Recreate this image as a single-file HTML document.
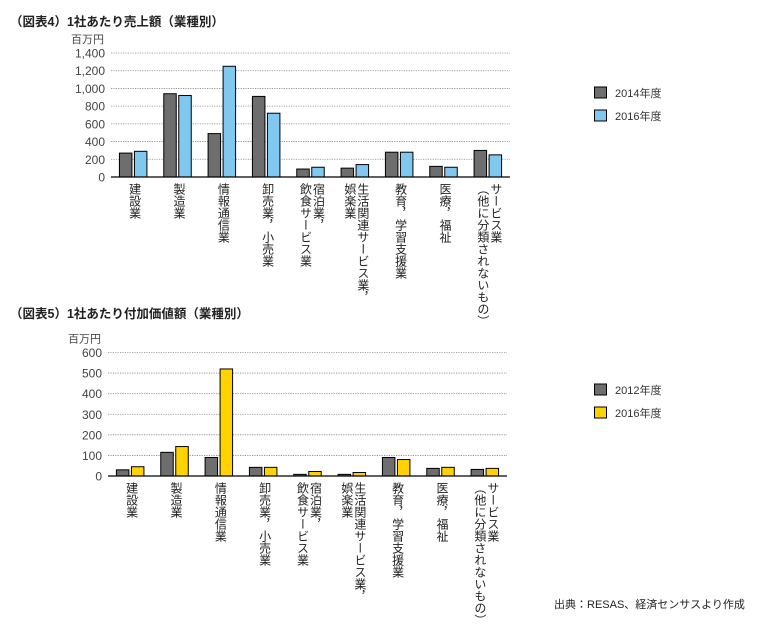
<!DOCTYPE html>
<html><head><meta charset="utf-8">
<style>
body{margin:0;background:#fff;width:763px;height:620px;overflow:hidden;position:relative;font-family:"Liberation Sans","Noto Sans CJK JP",sans-serif;color:#222}
.t{position:absolute;font-size:12.5px;white-space:nowrap}
.title{font-weight:bold;font-size:12.5px}
.vl{position:absolute;writing-mode:vertical-rl;font-size:12px;line-height:13px;white-space:nowrap;color:#222}
svg{position:absolute;left:0;top:0}
</style></head><body>
<div class="t title" style="left:10px;top:11px">（図表4）1社あたり売上額（業種別）</div>
<div class="t title" style="left:10px;top:303px">（図表5）1社あたり付加価値額（業種別）</div>
<div class="t" style="left:554px;top:596px;font-size:11px">出典：RESAS、経済センサスより作成</div>
<svg id="svg" width="763" height="620"></svg>
<script>
const categories=[["建設業"],["製造業"],["情報通信業"],["卸売業，小売業"],["宿泊業，","飲食サービス業"],["生活関連サービス業，","娯楽業"],["教育，学習支援業"],["医療，福祉"],["サービス業","（他に分類されないもの）"]];
const sales2014=[270,940,490,910,90,100,280,120,300];
const sales2016=[290,920,1250,720,110,140,280,110,250];
const salesTicks=[0,200,400,600,800,1000,1200,1400];
const salesTickLabels=["0","200","400","600","800","1,000","1,200","1,400"];
const value2012=[30,115,90,42,8,8,90,37,32];
const value2016=[45,143,520,42,22,17,80,42,37];
const valueTicks=[0,100,200,300,400,500,600];
const valueTickLabels=["0","100","200","300","400","500","600"];

const NS="http://www.w3.org/2000/svg";
const svg=document.getElementById('svg');
function mk(tag,attrs){const e=document.createElementNS(NS,tag);for(const k in attrs)e.setAttribute(k,attrs[k]);svg.appendChild(e);return e;}

function drawChart(cfg){
  const yScale=v=>cfg.y0-(v/cfg.max)*(cfg.y0-cfg.yTop);
  const step=(cfg.x1-cfg.x0)/categories.length;
  const xCenter=i=>cfg.x0+step*(i+0.5);
  cfg.ticks.forEach((t,i)=>{
    const y=yScale(t);
    if(t>0){const l=mk('line',{x1:cfg.x0,x2:cfg.x1,y1:y,y2:y,stroke:'#888','stroke-width':0.8,'stroke-dasharray':'1.2,1.2'});
      
      }
    const tx=mk('text',{x:cfg.x0-6,y:y+4.5,'text-anchor':'end','font-size':12,fill:'#444','font-family':'Liberation Sans, sans-serif'});
    tx.textContent=cfg.tickLabels[i];
    
    
  });
  const u=mk('text',{x:cfg.x0-7,y:cfg.yTop-10,'text-anchor':'end','font-size':11,fill:'#444','font-family':'Noto Sans CJK JP, sans-serif'});
  u.textContent='百万円';
  
  
  const bw=12.5,gap=2.5;
  categories.forEach((c,i)=>{
    const cx=xCenter(i);
    [[cfg.a,cfg.colA,-1],[cfg.b,cfg.colB,1]].forEach(([arr,col,s],k)=>{
      const x=s<0?cx-gap/2-bw:cx+gap/2;
      const y=yScale(arr[i]);
      const r=mk('rect',{x:x,y:y,width:bw,height:cfg.y0-y,fill:col,stroke:'#000','stroke-width':1});
      
      
    });
    const d=document.createElement('div');
    d.className='vl';
    d.innerHTML=c.join('<br>');
    const w=13*c.length;
    d.style.left=(cx-w/2+1)+'px';
    d.style.top=(cfg.y0+6)+'px';
    
    
    document.body.appendChild(d);
  });
  const ax=mk('line',{x1:cfg.x0,x2:cfg.x1,y1:cfg.y0,y2:cfg.y0,stroke:'#000','stroke-width':1.2});
  
  
  [[cfg.colA,cfg.legA,0],[cfg.colB,cfg.legB,1]].forEach(([col,txt,k])=>{
    const y=cfg.legY+k*23;
    const r=mk('rect',{x:594.5,y:y,width:12,height:11,fill:col,stroke:'#000','stroke-width':1});
    
    
    const t=mk('text',{x:615,y:y+10,'font-size':11,fill:'#333','font-family':'Liberation Sans, Noto Sans CJK JP, sans-serif'});
    t.textContent=txt;
    
    
  });
}
drawChart({id:'sales',x0:111,x1:510,y0:177,yTop:53,max:1400,ticks:salesTicks,tickLabels:salesTickLabels,a:sales2014,b:sales2016,colA:'#6e6e6e',colB:'#80c8f0',nameA:'2014',nameB:'2016',legA:'2014年度',legB:'2016年度',legY:87});
drawChart({id:'value',x0:108,x1:507,y0:476,yTop:352.5,max:600,ticks:valueTicks,tickLabels:valueTickLabels,a:value2012,b:value2016,colA:'#6e6e6e',colB:'#ffd200',nameA:'2012',nameB:'2016',legA:'2012年度',legB:'2016年度',legY:384});
</script>
</body></html>
